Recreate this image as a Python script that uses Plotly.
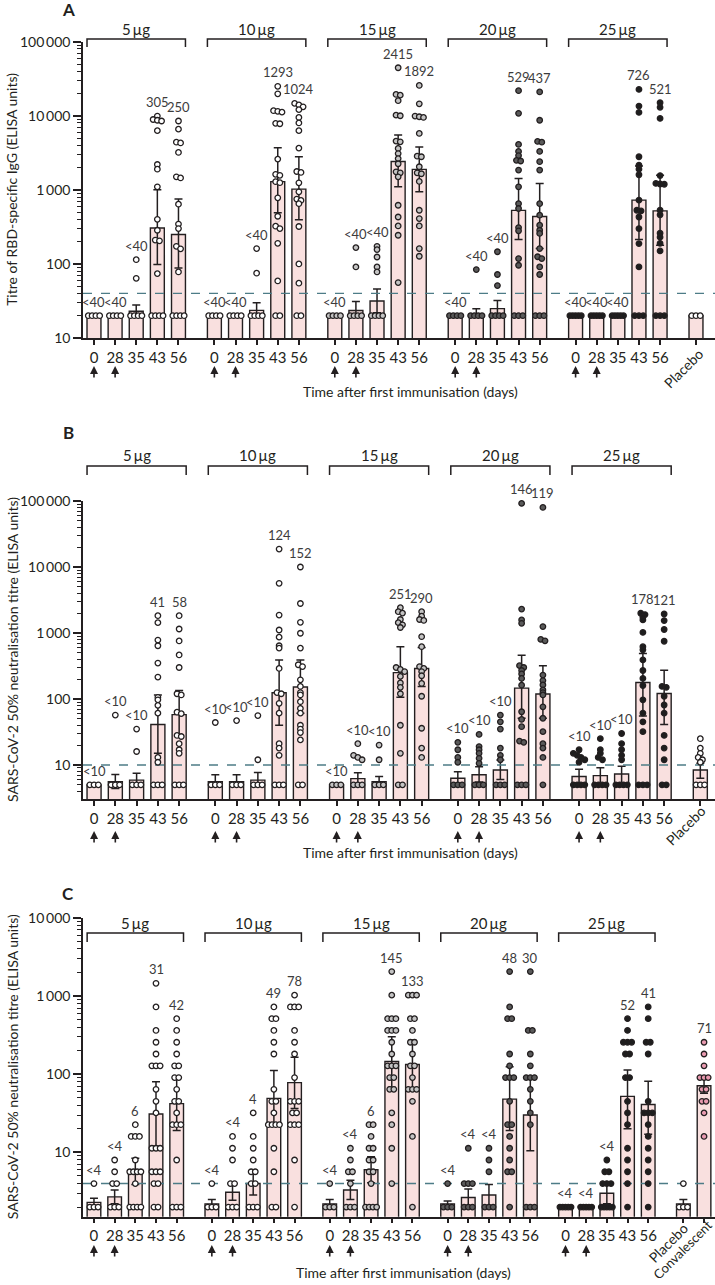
import math
import plotly.graph_objects as go

# ---------------- shared categories ----------------
DOSES = ["5\u2009µg", "10\u2009µg", "15\u2009µg", "20\u2009µg", "25\u2009µg"]
DAYS = ["0", "28", "35", "43", "56"]
BOOST_DAYS = ["0", "28"]
X_TITLE = "Time after first immunisation (days)"

# ---------------- Panel A: RBD-specific IgG ----------------
A_TITLE = "Titre of RBD-specific IgG (ELISA units)"
A_THRESHOLD = 40
A_GMT = [[20, 20, 23, 305, 250], [20, 20, 23.6, 1293, 1024], [20, 23.5, 31.6, 2415, 1892],
         [20, 21.3, 24.9, 529, 437], [20, 20, 20, 726, 521]]
A_LO = [[20, 20, 20, 98, 88], [20, 20, 20, 489, 395], [20, 20, 22, 1100, 940],
        [20, 19, 20, 213, 161], [20, 20, 20, 213, 179]]
A_HI = [[20, 20, 28, 1000, 750], [20, 20, 30, 3690, 2790], [20, 31, 46, 5480, 3800],
        [20, 24.9, 32, 1420, 1220], [20, 20, 20, 2100, 1578]]
A_LABELS = [["<40", "<40", "<40", "305", "250"], ["<40", "<40", "<40", "1293", "1024"],
            ["<40", "<40", "<40", "2415", "1892"], ["<40", "<40", "<40", "529", "437"],
            ["<40", "<40", "<40", "726", "521"]]
A_PTS_5 = [[20, 20, 20, 20], [20, 20, 20, 20], [114, 64, 20, 20, 20, 20],
           [9900, 8900, 8700, 8500, 6300, 2200, 1900, 1100, 400, 285, 210, 205, 74, 20, 20, 20, 20],
           [8500, 6600, 4400, 4300, 3200, 1500, 1450, 640, 345, 300, 173, 160, 78, 20, 20, 20, 20]]
A_PTS_10 = [[20, 20, 20, 20], [20, 20, 20, 20], [161, 75, 20, 20, 20, 20],
            [25000, 19800, 11700, 11500, 11200, 7900, 7800, 2600, 1620, 1570, 1290, 1250, 780, 440, 323, 300, 190, 59, 20, 20],
            [14700, 14000, 13200, 12100, 9500, 8000, 6300, 3660, 1770, 1720, 1245, 940, 750, 720, 650, 320, 100, 55, 20, 20]]
A_PTS_15 = [[20, 20, 20, 20], [166, 91, 20, 20, 20, 20], [173, 156, 124, 91, 78, 20, 20, 20, 20],
            [44500, 19400, 19000, 16000, 10200, 10000, 4550, 4450, 3620, 3090, 2640, 2250, 1750, 1700, 1500, 620, 430, 326, 244, 56],
            [25700, 14500, 9900, 9700, 9500, 5770, 2850, 2800, 2050, 1700, 1650, 1300, 530, 410, 326, 161, 127]]
A_PTS_20 = [[20, 20, 20, 20], [84, 20, 20, 20, 20], [146, 72, 51, 20, 20, 20, 20],
            [21800, 10800, 4100, 3300, 2900, 2500, 2450, 1850, 1100, 650, 560, 310, 280, 118, 96, 20, 20, 20],
            [21000, 8700, 4500, 4400, 3300, 2400, 1850, 650, 455, 333, 285, 258, 161, 125, 118, 91, 72, 20, 20, 20]]
A_PTS_25 = [[20, 20, 20, 20, 20], [20, 20, 20, 20, 20], [20, 20, 20, 20, 20],
            [22700, 13500, 11100, 2800, 2150, 1900, 1600, 725, 530, 520, 430, 300, 188, 91, 20, 20, 20],
            [15000, 13000, 9200, 1560, 1220, 1200, 1190, 530, 460, 260, 230, 190, 150, 20, 20, 20]]
A_PLACEBO = [20, 20, 20]          # gmt, lo, hi
A_PLACEBO_PTS = [20, 20, 20]

# ---------------- Panel B: neutralisation (ELISA) ----------------
B_TITLE = "SARS-CoV-2 50% neutralisation titre (ELISA units)"
B_THRESHOLD = 10
B_GMT = [[5, 5.6, 5.9, 41, 58], [5.6, 5.6, 5.9, 124, 152], [5, 6.2, 5.6, 251, 290],
         [6.3, 7.1, 8.4, 146, 119], [6.7, 6.9, 7.3, 178, 121]]
B_LO = [[5, 4.4, 5, 15, 27], [5, 5, 5, 40, 61], [5, 5, 5, 106, 154],
        [5, 5.5, 6, 51, 51], [5.2, 5.2, 5.2, 55, 41]]
B_HI = [[5, 7.2, 7.5, 115, 134], [7.1, 7.1, 7.7, 390, 390], [5, 7.6, 6.7, 620, 600],
        [7.9, 9.4, 11.9, 460, 318], [8.6, 9.1, 9.6, 490, 273]]
B_LABELS = [["<10", "<10", "<10", "41", "58"], ["<10", "<10", "<10", "124", "152"],
            ["<10", "<10", "<10", "251", "290"], ["<10", "<10", "<10", "146", "119"],
            ["<10", "<10", "<10", "178", "121"]]
B_PTS_5 = [[5, 5, 5], [57, 5, 5, 5], [35, 16, 5, 5, 5],
           [1830, 1435, 780, 640, 350, 215, 106, 97, 80, 61, 13, 11, 5, 5, 5],
           [1830, 1150, 757, 465, 300, 120, 115, 63, 60, 28, 27, 21, 17, 15, 5, 5, 5]]
B_PTS_10 = [[44, 5, 5, 5], [47, 5, 5, 5], [56, 12, 5, 5, 5],
            [18700, 5660, 1870, 1110, 865, 640, 590, 290, 125, 120, 86, 61, 21, 18, 14, 5, 5, 5],
            [10000, 2800, 1450, 990, 590, 330, 310, 195, 155, 125, 115, 91, 72, 61, 40, 35, 31, 24, 5, 5]]
B_PTS_15 = [[5, 5, 5], [21, 14, 13, 12, 5, 5, 5], [20, 12, 5, 5, 5],
            [2420, 2100, 2000, 1600, 1435, 1330, 1210, 300, 280, 260, 220, 175, 150, 120, 40, 15, 5, 5],
            [2100, 1800, 1600, 1550, 880, 620, 310, 290, 260, 225, 172, 110, 36, 18, 13]]
B_PTS_20 = [[22, 17, 13, 11, 5, 5, 5], [29, 19, 17, 15, 12.6, 10.6, 5, 5, 5], [57, 45, 35, 18, 14, 12, 5, 5, 5],
            [92000, 2300, 1575, 1400, 320, 300, 270, 240, 205, 162, 64, 49, 38, 23, 22, 5, 5, 5],
            [80000, 1250, 800, 760, 230, 190, 163, 137, 125, 115, 76, 51, 32, 21, 18, 13, 5]]
B_PTS_25 = [[17, 15, 14, 13, 12, 11, 5, 5, 5, 5], [25, 17, 15, 13, 12, 5, 5, 5, 5], [30, 21, 17, 14, 12, 5, 5, 5, 5],
            [1990, 1900, 1730, 1575, 1020, 620, 555, 390, 270, 205, 160, 97, 61, 45, 32, 5, 5, 5],
            [1940, 1540, 1130, 750, 155, 150, 110, 81, 61, 28, 18, 12, 5, 5]]
B_PLACEBO = [8.4, 6.3, 10.6]
B_PLACEBO_PTS = [25, 18, 15, 13, 12, 11, 5, 5, 5]

# ---------------- Panel C: neutralisation ----------------
C_TITLE = "SARS-CoV-2 50% neutralisation titre (ELISA units)"
C_THRESHOLD = 4
C_GMT = [[2.3, 2.7, 6, 31, 42], [2.2, 3.1, 4, 49, 78], [2.2, 3.3, 6, 145, 133],
         [2.2, 2.65, 2.85, 48, 30], [2, 2, 3.0, 52, 41]]
C_LO = [[2.1, 2.2, 3.9, 12, 19], [2.0, 2.45, 2.85, 22, 36.5], [2, 2.5, 4.1, 68, 65],
        [2.0, 2.1, 2.0, 19, 10.5], [2, 2, 2.2, 20, 17]]
C_HI = [[2.6, 3.3, 8.4, 80, 91], [2.5, 4, 5.9, 111, 164], [2.5, 4.4, 8.8, 300, 273],
        [2.4, 3.4, 3.9, 124, 91], [2, 2, 3.8, 113, 81]]
C_LABELS = [["<4", "<4", "6", "31", "42"], ["<4", "<4", "4", "49", "78"],
            ["<4", "<4", "6", "145", "133"], ["<4", "<4", "<4", "48", "30"],
            ["<4", "<4", "<4", "52", "41"]]
C_PTS_5 = [[4, 2, 2, 2], [8, 5.66, 4, 4, 2, 2, 2],
           [22.6, 16, 16, 16, 8, 5.66, 5.66, 5.66, 5.66, 4, 2, 2, 2, 2],
           [1448, 724, 362, 256, 181, 128, 128, 128, 64, 45, 32, 11.3, 11.3, 11.3, 5.66, 5.66, 5.66, 4, 4, 2, 2],
           [512, 362, 256, 181, 128, 128, 90.5, 90.5, 64, 45, 45, 32, 22.6, 22.6, 22.6, 8, 2, 2, 2]]
C_PTS_10 = [[4, 2, 2, 2], [16, 11.3, 8, 4, 4, 2, 2, 2],
            [32, 16, 11.3, 8, 5.66, 5.66, 4, 4, 2, 2, 2],
            [724, 512, 512, 362, 256, 181, 64, 45, 45, 32, 22.6, 22.6, 22.6, 22.6, 11.3, 5.66, 2, 2],
            [1024, 724, 724, 724, 362, 256, 181, 90.5, 45, 45, 45, 32, 32, 22.6, 22.6, 22.6, 8, 2]]
C_PTS_15 = [[4, 2, 2, 2], [11.3, 8, 5.66, 5.66, 4, 2, 2, 2],
            [22.6, 22.6, 16, 11.3, 11.3, 8, 8, 5.66, 5.66, 4, 2, 2, 2, 2],
            [2048, 1024, 512, 512, 512, 362, 362, 362, 256, 181, 128, 128, 128, 90.5, 90.5, 64, 64, 32, 22.6, 11.3, 4],
            [1024, 1024, 1024, 512, 512, 362, 256, 256, 181, 128, 128, 90.5, 64, 64, 64, 45, 16, 2]]
C_PTS_20 = [[4, 2, 2, 2], [11.3, 4, 4, 4, 2, 2, 2], [11.3, 8, 5.66, 2, 2, 2],
            [2048, 724, 512, 512, 181, 128, 90.5, 90.5, 90.5, 45, 22.6, 22.6, 16, 11.3, 8, 5.66, 5.66, 2],
            [2048, 362, 362, 181, 128, 90.5, 90.5, 90.5, 64, 45, 32, 22.6, 2, 2, 2]]
C_PTS_25 = [[2, 2, 2, 2, 2], [2, 2, 2, 2, 2], [8, 5.66, 5.66, 4, 4, 4, 2, 2, 2, 2, 2],
            [512, 362, 256, 256, 256, 181, 181, 90.5, 90.5, 45, 32, 22.6, 11.3, 8, 5.66, 4, 2],
            [724, 512, 256, 256, 181, 45, 32, 32, 32, 22.6, 16, 11.3, 8, 5.66, 4, 2]]
C_PLACEBO = [2.2, 2.0, 2.5]
C_PLACEBO_PTS = [4, 2, 2, 2]
C_CONV = [71, 57, 95]
C_CONV_LABEL = "71"
C_CONV_PTS = [256, 181, 128, 90.5, 90.5, 90.5, 64, 64, 45, 45, 32, 16]

# ---------------- style / geometry ----------------
W, H = 715, 1285
ML = 83
FONT = "Lato, 'Open Sans', 'DejaVu Sans', sans-serif"
INK = "#231f20"
LABEL_INK = "#3c3c3c"
BAR_FILL = "#f9e0df"
DOSE_FILL = ["#ffffff", "#ffffff", "#c4c4c4", "#5a5a5a", "#1e1e1e"]
PLACEBO_FILL = "#ffffff"
CONV_FILL = "#e99ab0"
THR_COLOR = "#4d7c87"
GROUP_STEP = 5.7
BAR_W = 0.66
PLACEBO_X = 28.5
CONV_X = 29.5


def py(px):
    return 1 - px / H


def swarm(vals, log_gap=0.035, step=0.2, half=0.27):
    order = sorted(range(len(vals)), key=lambda i: -vals[i])
    offs = [0.0] * len(vals)
    clusters, cur = [], [order[0]]
    for i in order[1:]:
        if abs(math.log10(vals[cur[-1]]) - math.log10(vals[i])) < log_gap:
            cur.append(i)
        else:
            clusters.append(cur)
            cur = [i]
    clusters.append(cur)
    for cl in clusters:
        n = len(cl)
        if n < 2:
            continue
        s = min(step, 2 * half / (n - 1))
        for k, i in enumerate(cl):
            offs[i] = (k - (n - 1) / 2) * s
    return offs


panels = [
    dict(letter="A", sx="", title=A_TITLE, thr=A_THRESHOLD, gmt=A_GMT, lo=A_LO, hi=A_HI, labels=A_LABELS,
         pts=[A_PTS_5, A_PTS_10, A_PTS_15, A_PTS_20, A_PTS_25],
         extras=[("Placebo", PLACEBO_X, A_PLACEBO, A_PLACEBO_PTS, PLACEBO_FILL, "", -13, 30, 14)],
         top=41.7, bot=338, yr=[1, 5], xr=[-0.52, 29.4], yt=[10, 100, 1000, 10000, 100000],
         letter_y=10, dose_y=29, br_y=39, br_d=8, arrow_y=366, xt_y=391, xt_x=410),
    dict(letter="B", sx="2", title=B_TITLE, thr=B_THRESHOLD, gmt=B_GMT, lo=B_LO, hi=B_HI, labels=B_LABELS,
         pts=[B_PTS_5, B_PTS_10, B_PTS_15, B_PTS_20, B_PTS_25],
         extras=[("Placebo", PLACEBO_X, B_PLACEBO, B_PLACEBO_PTS, PLACEBO_FILL, "", -15, 26, 14)],
         top=501, bot=799, yr=[math.log10(3.05), 5], xr=[-0.52, 29.19], yt=[10, 100, 1000, 10000, 100000],
         letter_y=432, dose_y=455, br_y=466, br_d=9, arrow_y=831, xt_y=852, xt_x=410),
    dict(letter="C", sx="3", title=C_TITLE, thr=C_THRESHOLD, gmt=C_GMT, lo=C_LO, hi=C_HI, labels=C_LABELS,
         pts=[C_PTS_5, C_PTS_10, C_PTS_15, C_PTS_20, C_PTS_25],
         extras=[("Placebo", PLACEBO_X, C_PLACEBO, C_PLACEBO_PTS, PLACEBO_FILL, "", -15, 26, 14),
                 ("Convalescent", CONV_X, C_CONV, C_CONV_PTS, CONV_FILL, C_CONV_LABEL, -22, 33, 13)],
         top=917.7, bot=1216.7, yr=[0.178, 4], xr=[-0.53, 30.03], yt=[10, 100, 1000, 10000],
         letter_y=893, dose_y=923, br_y=933, br_d=9, arrow_y=1245, xt_y=1272, xt_x=403),
]

fig = go.Figure()
layout = dict(width=W, height=H, margin=dict(l=ML, r=0, t=0, b=0, autoexpand=False), showlegend=False,
              plot_bgcolor="white", paper_bgcolor="white", font=dict(family=FONT, color=INK))
annotations, shapes = [], []
minor_vals = [m * 10 ** e for e in range(0, 5) for m in range(2, 10)]

for p in panels:
    xa, ya = "x" + p["sx"], "y" + p["sx"]
    bx, by, bp, bm = [], [], [], []
    labels = []
    tickx, tickt = [], []
    for g in range(5):
        for d in range(5):
            x = g * GROUP_STEP + d
            v, lo, hi = p["gmt"][g][d], p["lo"][g][d], p["hi"][g][d]
            bx.append(x); by.append(v); bp.append(max(hi - v, 0)); bm.append(max(v - lo, 0))
            tickx.append(x); tickt.append(DAYS[d])
            labels.append((x, max(max(p["pts"][g][d]), hi, v), p["labels"][g][d]))
    for name, x, stats, pts, fill, lab, dx, dy, fs in p["extras"]:
        bx.append(x); by.append(stats[0]); bp.append(stats[2] - stats[0]); bm.append(stats[0] - stats[1])
        tickx.append(x); tickt.append("")
        if lab:
            labels.append((x, max(max(pts), stats[2]), lab))
    fig.add_trace(go.Bar(x=bx, y=by, width=BAR_W, xaxis=xa, yaxis=ya,
                         marker=dict(color=BAR_FILL, line=dict(color=INK, width=1.4)),
                         error_y=dict(type="data", symmetric=False, array=bp, arrayminus=bm,
                                      color=INK, thickness=1.5, width=4)))
    fig.add_trace(go.Scatter(x=p["xr"], y=[p["thr"], p["thr"]], mode="lines", xaxis=xa, yaxis=ya,
                             line=dict(color=THR_COLOR, width=1.4, dash="dash"), hoverinfo="skip"))
    for g in range(5):
        xs, ys = [], []
        for d in range(5):
            vals = p["pts"][g][d]
            offs = swarm(vals)
            xs += [g * GROUP_STEP + d + o for o in offs]
            ys += vals
        fig.add_trace(go.Scatter(x=xs, y=ys, mode="markers", xaxis=xa, yaxis=ya, cliponaxis=False,
                                 marker=dict(size=5.5, color=DOSE_FILL[g], line=dict(color=INK, width=1.3))))
    for name, x, stats, pts, fill, lab, dx, dy, fs in p["extras"]:
        offs = swarm(pts)
        fig.add_trace(go.Scatter(x=[x + o for o in offs], y=pts, mode="markers", xaxis=xa, yaxis=ya,
                                 cliponaxis=False,
                                 marker=dict(size=5.5, color=fill, line=dict(color=INK, width=1.3))))
        annotations.append(dict(text=name, x=x, xref=xa, y=py(p["bot"] + dy), yref="paper", xshift=dx,
                                showarrow=False, textangle=-45, xanchor="center", yanchor="middle",
                                font=dict(size=fs, color=INK)))
    for x, top, txt in labels:
        annotations.append(dict(text=txt, x=x, xref=xa, y=math.log10(top), yref=ya, yshift=4,
                                showarrow=False, xanchor="center", yanchor="bottom",
                                font=dict(size=13, color=LABEL_INK)))
    dom = [py(p["bot"]), py(p["top"])]
    layout["xaxis" + p["sx"]] = dict(domain=[0, 1], anchor=ya, range=p["xr"], showline=True, linecolor=INK,
                                      linewidth=1.5, ticks="outside", ticklen=5, tickwidth=1.5, tickcolor=INK,
                                      tickmode="array", tickvals=tickx, ticktext=tickt, showgrid=False,
                                      zeroline=False, automargin=False, tickfont=dict(size=15, color=INK))
    layout["yaxis" + p["sx"]] = dict(domain=dom, anchor=xa, type="log", range=p["yr"], showline=True,
                                      linecolor=INK, linewidth=1.5, ticks="outside", ticklen=8, tickwidth=1.5,
                                      tickcolor=INK, tickmode="array", tickvals=p["yt"],
                                      ticktext=[f"{v:,}".replace(",", "\u2009") for v in p["yt"]],
                                      showgrid=False, zeroline=False, automargin=False,
                                      tickfont=dict(size=14, color=INK),
                                      minor=dict(tickmode="array", tickvals=minor_vals, ticks="outside",
                                                 ticklen=4, tickwidth=1, tickcolor=INK, showgrid=False))
    annotations.append(dict(text="<b>%s</b>" % p["letter"], x=(68 - ML) / (W - ML), xref="paper",
                            y=py(p["letter_y"]), yref="paper", showarrow=False, xanchor="center",
                            yanchor="middle", font=dict(size=17, color=INK)))
    annotations.append(dict(text=p["title"], x=(12 - ML) / (W - ML), xref="paper",
                            y=py((p["top"] + p["bot"]) / 2), yref="paper", showarrow=False, textangle=-90,
                            xanchor="center", yanchor="middle", font=dict(size=14, color=INK)))
    annotations.append(dict(text=X_TITLE, x=(p["xt_x"] - ML) / (W - ML), xref="paper", y=py(p["xt_y"]),
                            yref="paper", showarrow=False, xanchor="center", yanchor="middle",
                            font=dict(size=14, color=INK)))
    for g in range(5):
        x0 = g * GROUP_STEP - BAR_W / 2
        x1 = g * GROUP_STEP + 4 + BAR_W / 2
        yt, yb = py(p["br_y"]), py(p["br_y"] + p["br_d"])
        shapes.append(dict(type="path", xref=xa, yref="paper",
                           path=f"M {x0},{yb} L {x0},{yt} L {x1},{yt} L {x1},{yb}",
                           line=dict(color=INK, width=1.5)))
        annotations.append(dict(text=DOSES[g], x=g * GROUP_STEP + 2, xref=xa, y=py(p["dose_y"]), yref="paper",
                                showarrow=False, xanchor="center", yanchor="middle",
                                font=dict(size=15, color=INK)))
        for d in range(len(BOOST_DAYS)):
            annotations.append(dict(text="", x=g * GROUP_STEP + d, xref=xa, y=py(p["arrow_y"]), yref="paper",
                                    showarrow=True, ax=0, ay=13, arrowhead=2, arrowsize=1,
                                    arrowwidth=1.6, arrowcolor=INK))

layout["annotations"] = annotations
layout["shapes"] = shapes
fig.update_layout(**layout)
fig.write_html("out.html", config={"displayModeBar": False},
               post_script="document.body.style.margin='0';document.body.style.overflow='hidden';")
